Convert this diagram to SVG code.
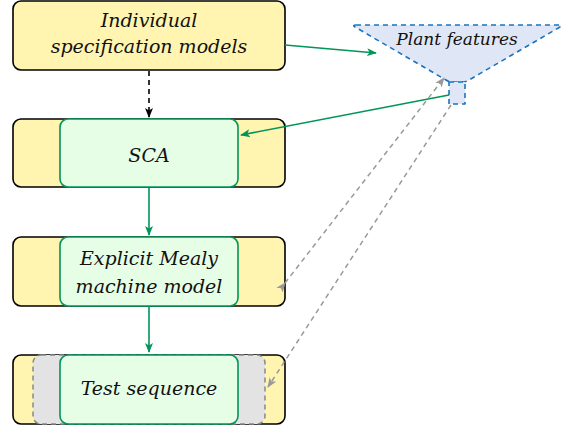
<svg xmlns="http://www.w3.org/2000/svg" width="569" height="430" viewBox="0 0 569 430">
<defs>
<style>
.outer{fill:#fff5b0;stroke:#000;stroke-width:1.6}
.inner{fill:#e6fde6;stroke:#00955a;stroke-width:1.6}
.gray{fill:#e3e3e3;stroke:#888;stroke-width:1.5;stroke-dasharray:5,4}
.plant{fill:#dfe6f5;stroke:#1a73c0;stroke-width:1.6;stroke-dasharray:5,4;stroke-linejoin:round}
.t{font-family:'DejaVu Serif',serif;font-style:italic;font-size:19px;fill:#111;text-anchor:middle}
.g{stroke:#00955a;stroke-width:1.6;fill:none}
.k{stroke:#000;stroke-width:1.6;fill:none;stroke-dasharray:5,4}
.d{stroke:#999;stroke-width:1.5;fill:none;stroke-dasharray:5,4}
</style>
<marker id="ag" markerWidth="11" markerHeight="9" refX="9" refY="4.5" orient="auto" markerUnits="userSpaceOnUse"><path d="M0,0.5 L10,4.5 L0,8.5 L2.5,4.5 z" fill="#00955a"/></marker>
<marker id="ak" markerWidth="11" markerHeight="9" refX="9" refY="4.5" orient="auto" markerUnits="userSpaceOnUse"><path d="M0,0.5 L10,4.5 L0,8.5 L2.5,4.5 z" fill="#000"/></marker>
<marker id="ad" markerWidth="11" markerHeight="9" refX="9" refY="4.5" orient="auto" markerUnits="userSpaceOnUse"><path d="M0,0.5 L10,4.5 L0,8.5 L2.5,4.5 z" fill="#999"/></marker>
</defs>
<g id="spec">
<rect class="outer" x="13" y="1" width="272" height="69" rx="8"/>
<text class="t" x="149" y="27">Individual</text>
<text class="t" x="149" y="53">specification models</text>
</g>
<g id="sca">
<rect class="outer" x="13" y="119" width="272" height="68" rx="8"/>
<rect class="inner" x="60" y="119" width="178" height="68" rx="8"/>
<text class="t" x="149" y="162">SCA</text>
</g>
<g id="mealy">
<rect class="outer" x="13" y="237" width="272" height="69" rx="8"/>
<rect class="inner" x="60" y="237" width="178" height="69" rx="8"/>
<text class="t" x="149" y="265">Explicit Mealy</text>
<text class="t" x="149" y="293">machine model</text>
</g>
<g id="test">
<rect class="outer" x="13" y="355" width="272" height="69" rx="8"/>
<rect class="gray" x="33" y="355" width="232" height="69" rx="8"/>
<rect class="inner" x="60" y="355" width="178" height="69" rx="8"/>
<text class="t" x="149" y="395">Test sequence</text>
</g>
<g id="plant">
<path class="plant" d="M356,25 L559,25 Q563,25 560,27 L469,80 Q466,82 463,82 L452,82 Q449,82 446,80 L355,27 Q352,25 356,25 Z"/>
<rect class="plant" x="449" y="82" width="16" height="22" stroke-dasharray="4,3"/>
<text class="t" x="457" y="45" style="font-size:17px">Plant features</text>
</g>
<g id="connectors">
<line class="g" x1="285" y1="45" x2="376" y2="53" marker-end="url(#ag)"/>
<line class="k" x1="149" y1="71" x2="149" y2="117" marker-end="url(#ak)"/>
<line class="g" x1="449" y1="95" x2="241" y2="135" marker-end="url(#ag)"/>
<line class="g" x1="149" y1="188" x2="149" y2="235" marker-end="url(#ag)"/>
<line class="g" x1="149" y1="306" x2="149" y2="352" marker-end="url(#ag)"/>
<line class="d" x1="285" y1="283" x2="444" y2="78" marker-start="url(#ad)" marker-end="url(#ad)"/>
<line class="d" x1="451" y1="105" x2="268" y2="387" marker-end="url(#ad)"/>
</g>
</svg>
